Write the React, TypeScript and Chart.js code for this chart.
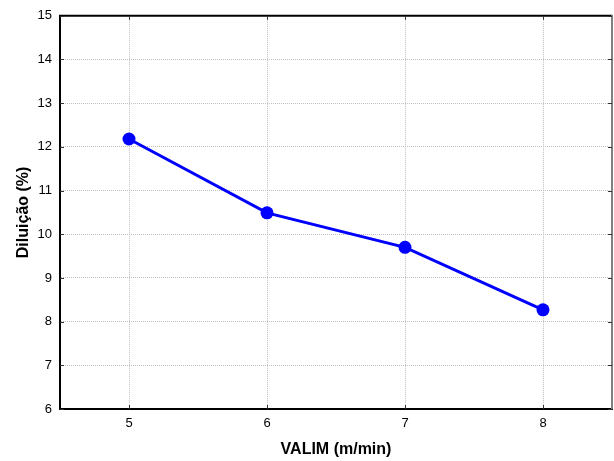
import React, { useEffect, useRef } from "react";
import { Chart, registerables } from "chart.js";

Chart.register(...registerables);

// Feed speed (m/min) and measured dilution (%)
const valim: number[] = [5, 6, 7, 8];
const diluicao: number[] = [12.18, 10.49, 9.7, 8.27];

const xTicks: number[] = [5, 6, 7, 8];
const yTicks: number[] = [6, 7, 8, 9, 10, 11, 12, 13, 14, 15];

const xTitle = "VALIM (m/min)";
const yTitle = "Diluição (%)";

const FONT = "'Liberation Sans', Arial, sans-serif";

// Draws the closed frame (top/right edges) and inward tick marks on all sides
const framePlugin = {
  id: "frameTicks",
  afterDraw(chart: any) {
    const { ctx, chartArea } = chart;
    const { left, right, top, bottom } = chartArea;
    const xs = chart.scales.x;
    const ys = chart.scales.y;
    ctx.save();
    ctx.setLineDash([]);
    // top edge
    ctx.strokeStyle = "#000";
    ctx.lineWidth = 2;
    ctx.beginPath();
    ctx.moveTo(left - 1, top);
    ctx.lineTo(right, top);
    ctx.stroke();
    // right edge
    ctx.strokeStyle = "#808080";
    ctx.lineWidth = 2;
    ctx.beginPath();
    ctx.moveTo(right, top - 1);
    ctx.lineTo(right, bottom);
    ctx.stroke();
    // inward tick marks
    const tl = 4;
    ctx.lineWidth = 1;
    ctx.strokeStyle = "#333";
    ctx.beginPath();
    for (const v of xTicks) {
      const px = Math.round(xs.getPixelForValue(v)) + 0.5;
      ctx.moveTo(px, bottom);
      ctx.lineTo(px, bottom - tl);
      ctx.moveTo(px, top);
      ctx.lineTo(px, top + tl);
    }
    for (const v of yTicks) {
      const py = Math.round(ys.getPixelForValue(v)) + 0.5;
      ctx.moveTo(left, py);
      ctx.lineTo(left + tl, py);
      ctx.moveTo(right, py);
      ctx.lineTo(right - tl, py);
    }
    ctx.stroke();
    ctx.restore();
  },
};

export default function App() {
  const canvasRef = useRef<HTMLCanvasElement | null>(null);

  useEffect(() => {
    document.body.style.margin = "0";
    const canvas = canvasRef.current;
    if (!canvas) return;
    const chart = new Chart(canvas, {
      type: "line",
      data: {
        datasets: [
          {
            data: valim.map((x, i) => ({ x, y: diluicao[i] })),
            borderColor: "#0000ff",
            backgroundColor: "#0000ff",
            borderWidth: 3,
            pointRadius: 6.5,
            pointBackgroundColor: "#0000ff",
            pointBorderWidth: 0,
            tension: 0,
            fill: false,
          },
        ],
      },
      options: {
        animation: false,
        responsive: true,
        maintainAspectRatio: false,
        layout: {
          autoPadding: false,
          padding: { top: 15, right: 2, left: 0, bottom: 0 },
        },
        plugins: {
          legend: { display: false },
          tooltip: { enabled: false },
        },
        scales: {
          x: {
            type: "linear",
            min: 4.5,
            max: 8.5,
            afterBuildTicks: (scale: any) => {
              scale.ticks = xTicks.map((v) => ({ value: v }));
            },
            afterFit: (scale: any) => {
              scale.height = 52;
            },
            grid: {
              color: "#c0c0c0",
              lineWidth: 1,
              drawTicks: false,
            },
            border: { display: true, color: "#000", width: 2, dash: [1, 1] },
            ticks: {
              padding: 7,
              color: "#000",
              font: { family: FONT, size: 13 },
            },
            title: {
              display: true,
              text: xTitle,
              color: "#000",
              font: { family: FONT, size: 16, weight: "bold" },
              padding: { top: 0, bottom: 2 },
            },
          },
          y: {
            type: "linear",
            min: 6,
            max: 15,
            afterBuildTicks: (scale: any) => {
              scale.ticks = yTicks.map((v) => ({ value: v }));
            },
            afterFit: (scale: any) => {
              scale.width = 60;
            },
            grid: {
              color: "#c0c0c0",
              lineWidth: 1,
              drawTicks: false,
            },
            border: { display: true, color: "#000", width: 2, dash: [1, 1] },
            ticks: {
              padding: 8,
              color: "#000",
              font: { family: FONT, size: 13 },
            },
            title: {
              display: true,
              text: yTitle,
              color: "#000",
              font: { family: FONT, size: 16, weight: "bold" },
              padding: { top: 14, bottom: 0 },
            },
          },
        },
      },
      plugins: [framePlugin],
    } as any);
    return () => chart.destroy();
  }, []);

  return (
    <div style={{ position: "fixed", left: 0, top: 0, width: 614, height: 461 }}>
      <canvas ref={canvasRef} />
    </div>
  );
}
